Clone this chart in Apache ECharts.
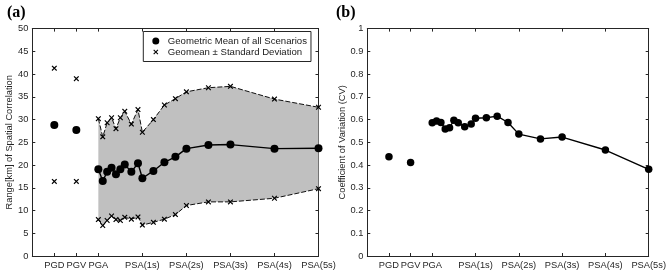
<!DOCTYPE html>
<html>
<head>
<meta charset="utf-8">
<script src="https://cdn.jsdelivr.net/npm/echarts@6/dist/echarts.min.js"></script>
<style>
html,body{margin:0;padding:0;background:#fff;}
#chart{width:669px;height:273px;}
</style>
</head>
<body>
<div id="chart"></div>
<script>
// ---- data ----
const tickVals = [-1, -0.5, 0, 1, 2, 3, 4, 5];
const tickLabels = ['PGD', 'PGV', 'PGA', 'PSA(1s)', 'PSA(2s)', 'PSA(3s)', 'PSA(4s)', 'PSA(5s)'];

// PGD (-1) and PGV (-0.5) positions
const imPeriods = [-1, -0.5];
const imMean  = [28.8, 27.7];
const imUpper = [41.3, 39.0];
const imLower = [16.4, 16.4];
const imCV    = [0.436, 0.411];

// PGA (0) and PSA periods in seconds
const psaPeriods = [0, 0.1, 0.2, 0.3, 0.4, 0.5, 0.6, 0.75, 0.9, 1, 1.25, 1.5, 1.75, 2, 2.5, 3, 4, 5];
const psaMean  = [19.1, 16.5, 18.5, 19.4, 18.0, 19.1, 20.1, 18.5, 20.4, 17.1, 18.7, 20.6, 21.8, 23.6, 24.4, 24.5, 23.6, 23.7];
const psaUpper = [30.2, 26.2, 29.3, 30.4, 28.0, 30.4, 31.8, 29.0, 32.2, 27.2, 30.0, 33.2, 34.6, 36.1, 37.0, 37.3, 34.5, 32.7];
const psaLower = [8.0, 6.7, 7.8, 8.8, 8.0, 7.8, 8.5, 8.1, 8.6, 6.8, 7.4, 8.1, 9.1, 11.1, 11.9, 11.9, 12.7, 14.8];
const psaCV    = [0.586, 0.594, 0.587, 0.559, 0.564, 0.597, 0.586, 0.568, 0.580, 0.606, 0.608, 0.615, 0.587, 0.536, 0.515, 0.523, 0.466, 0.381];

const meanName = 'Geometric Mean of all Scenarios';
const sdName = 'Geomean \u00b1 Standard Deviation';

// ---- styling helpers ----
const FONT = "'Liberation Sans', Arial, Helvetica, sans-serif";
const AX = '#262626';
const FS = 9.3;
const xPath = 'path://M0,1.5L1.5,0L5,3.5L8.5,0L10,1.5L6.5,5L10,8.5L8.5,10L5,6.5L1.5,10L0,8.5L3.5,5Z';
const xLegendPath = 'path://M-2,-2L-2,-2M12,12L12,12M0,1.5L1.5,0L5,3.5L8.5,0L10,1.5L6.5,5L10,8.5L8.5,10L5,6.5L1.5,10L0,8.5L3.5,5Z';
const zip = (xs, ys) => xs.map((x, i) => [x, ys[i]]);
const labelFor = v => {
  const i = tickVals.findIndex(t => Math.abs(t - v) < 1e-9);
  return i >= 0 ? tickLabels[i] : '';
};

function xAxes(grid) {
  return [
    { type: 'value', gridIndex: grid, position: 'bottom', min: -1.5, max: 5,
      axisLine: { onZero: false, lineStyle: { color: AX, width: 1 } },
      axisTick: { inside: true, length: 3, customValues: tickVals, lineStyle: { color: AX } },
      axisLabel: { customValues: tickVals, formatter: labelFor, margin: 5, color: AX, fontSize: FS, fontFamily: FONT, hideOverlap: false },
      splitLine: { show: false } },
    { type: 'value', gridIndex: grid, position: 'top', min: -1.5, max: 5,
      axisLine: { onZero: false, lineStyle: { color: AX, width: 1 } },
      axisTick: { inside: true, length: 3, customValues: tickVals, lineStyle: { color: AX } },
      axisLabel: { show: false }, splitLine: { show: false } }
  ];
}
function yAxes(grid, max, interval, name, gap, fmt) {
  return [
    { type: 'value', gridIndex: grid, position: 'left', min: 0, max: max, interval: interval,
      name: name, nameLocation: 'middle', nameGap: gap,
      nameTextStyle: { color: AX, fontSize: FS, fontFamily: FONT },
      axisLine: { show: true, onZero: false, lineStyle: { color: AX, width: 1 } },
      axisTick: { show: true, inside: true, length: 3, lineStyle: { color: AX } },
      axisLabel: { margin: 4, color: AX, fontSize: FS, fontFamily: FONT, formatter: fmt },
      splitLine: { show: false } },
    { type: 'value', gridIndex: grid, position: 'right', min: 0, max: max, interval: interval,
      axisLine: { show: true, onZero: false, lineStyle: { color: AX, width: 1 } },
      axisTick: { show: true, inside: true, length: 3, lineStyle: { color: AX } },
      axisLabel: { show: false }, splitLine: { show: false } }
  ];
}

const dot = { color: '#000', opacity: 1 };

const chart = echarts.init(document.getElementById('chart'), null, { renderer: 'canvas' });
chart.setOption({
  animation: false,
  backgroundColor: '#fff',
  title: [
    { text: '(a)', left: 2, top: 0, textStyle: { fontFamily: "'Liberation Serif', 'Times New Roman', serif", fontWeight: 'bold', fontSize: 16, color: '#000' } },
    { text: '(b)', left: 331, top: 0, textStyle: { fontFamily: "'Liberation Serif', 'Times New Roman', serif", fontWeight: 'bold', fontSize: 16, color: '#000' } }
  ],
  grid: [
    { left: 32.3, top: 28.6, width: 286.2, height: 227.4 },
    { left: 367.3, top: 28.6, width: 283.4, height: 227.4 }
  ],
  xAxis: [...xAxes(0), ...xAxes(1)],
  yAxis: [
    ...yAxes(0, 50, 5, 'Range[km] of Spatial Correlation', 12, v => String(v)),
    ...yAxes(1, 1, 0.1, 'Coefficient of Variation (CV)', 16.5, v => (Math.round(v * 10) / 10).toString())
  ],
  legend: {
    left: 143.3, top: 31.5, orient: 'vertical',
    padding: [4, 4, 4, 9], itemGap: 0, itemWidth: 14, itemHeight: 7,
    borderColor: AX, borderWidth: 1, backgroundColor: '#fff',
    textStyle: { color: '#1a1a1a', fontSize: 9.6, fontFamily: FONT, lineHeight: 11 },
    data: [
      { name: meanName, icon: 'circle' },
      { name: sdName, icon: xLegendPath }
    ]
  },
  series: [
    { type: 'custom', xAxisIndex: 0, yAxisIndex: 0, data: [[0, 0]], silent: true, z: 1,
      renderItem: (params, api) => {
        const pts = [];
        psaPeriods.forEach((p, i) => pts.push(api.coord([p, psaUpper[i]])));
        for (let i = psaPeriods.length - 1; i >= 0; i--) pts.push(api.coord([psaPeriods[i], psaLower[i]]));
        return { type: 'polygon', shape: { points: pts }, style: { fill: '#c0c0c0' } };
      } },
    { name: sdName, type: 'line', xAxisIndex: 0, yAxisIndex: 0, z: 3,
      data: zip(psaPeriods, psaUpper), symbol: xPath, symbolSize: 5.5,
      itemStyle: dot, lineStyle: { color: '#111', width: 1, type: [5, 2] } },
    { name: sdName, type: 'line', xAxisIndex: 0, yAxisIndex: 0, z: 3,
      data: zip(psaPeriods, psaLower), symbol: xPath, symbolSize: 5.5,
      itemStyle: dot, lineStyle: { color: '#111', width: 1, type: [5, 2] } },
    { name: sdName, type: 'scatter', xAxisIndex: 0, yAxisIndex: 0, z: 3,
      data: zip(imPeriods, imUpper).concat(zip(imPeriods, imLower)), symbol: xPath, symbolSize: 5.5,
      itemStyle: dot },
    { name: meanName, type: 'line', xAxisIndex: 0, yAxisIndex: 0, z: 4,
      data: zip(psaPeriods, psaMean), symbol: 'circle', symbolSize: 8,
      itemStyle: dot, lineStyle: { color: '#000', width: 1.4 } },
    { name: meanName, type: 'scatter', xAxisIndex: 0, yAxisIndex: 0, z: 4,
      data: zip(imPeriods, imMean), symbol: 'circle', symbolSize: 8,
      itemStyle: dot },
    { type: 'line', xAxisIndex: 2, yAxisIndex: 2, z: 4,
      data: zip(psaPeriods, psaCV), symbol: 'circle', symbolSize: 7.5,
      itemStyle: dot, lineStyle: { color: '#000', width: 1.4 } },
    { type: 'scatter', xAxisIndex: 2, yAxisIndex: 2, z: 4,
      data: zip(imPeriods, imCV), symbol: 'circle', symbolSize: 7.5,
      itemStyle: dot }
  ]
});
</script>
</body>
</html>
